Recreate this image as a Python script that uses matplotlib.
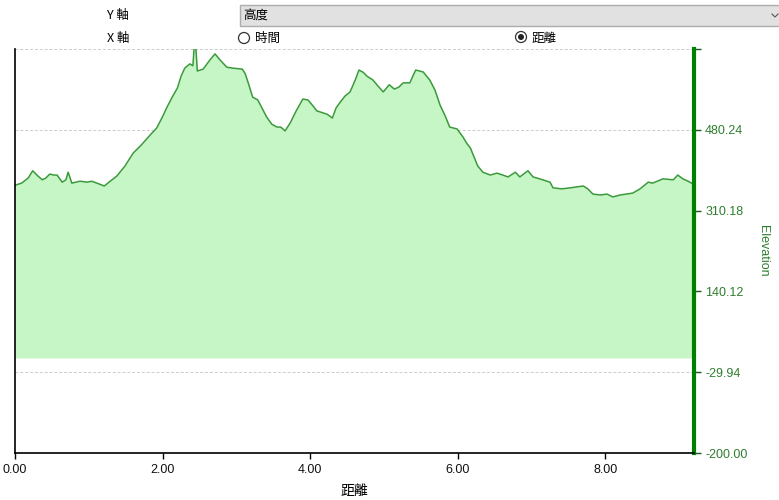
import matplotlib
matplotlib.use("Agg")
import matplotlib.pyplot as plt
from matplotlib.patches import Rectangle, Circle

plt.rcParams['font.family'] = ['Liberation Sans', 'Noto Sans CJK TC', 'DejaVu Sans']

# distance (km) and elevation (m)
distance = [0.00, 0.01, 0.09, 0.18, 0.24, 0.31, 0.37, 0.42, 0.47, 0.53, 0.57, 0.64, 0.69, 0.72,
            0.77, 0.88, 0.98, 1.04, 1.11, 1.21, 1.29, 1.38, 1.49, 1.60, 1.71, 1.83, 1.92, 1.99,
            2.06, 2.13, 2.20, 2.25, 2.30, 2.37, 2.41, 2.44, 2.47, 2.55, 2.64, 2.71, 2.78, 2.87,
            2.95, 3.08, 3.12, 3.16, 3.22, 3.29, 3.36, 3.41, 3.48, 3.55, 3.60, 3.66, 3.73, 3.81,
            3.90, 3.97, 4.04, 4.09, 4.17, 4.23, 4.30, 4.35, 4.40, 4.47, 4.54, 4.61, 4.66, 4.72,
            4.77, 4.85, 4.92, 4.99, 5.07, 5.14, 5.20, 5.26, 5.35, 5.39, 5.43, 5.53, 5.62, 5.69,
            5.76, 5.83, 5.89, 5.99, 6.07, 6.12, 6.17, 6.22, 6.27, 6.34, 6.44, 6.53, 6.61, 6.68,
            6.78, 6.84, 6.95, 7.02, 7.11, 7.25, 7.29, 7.41, 7.52, 7.70, 7.76, 7.83, 7.93, 8.02,
            8.10, 8.20, 8.37, 8.47, 8.58, 8.64, 8.78, 8.92, 8.98, 9.05, 9.12, 9.19]
elevation = [362, 364, 368, 379, 394, 383, 375, 379, 387, 385, 385, 370, 375, 391,
             368, 372, 370, 372, 368, 362, 372, 383, 404, 431, 448, 469, 484, 505,
             528, 549, 568, 593, 610, 619, 615, 680, 604, 608, 627, 640, 627, 612,
             610, 608, 598, 579, 549, 543, 522, 507, 492, 486, 486, 478, 495, 520,
             545, 543, 530, 520, 516, 513, 505, 526, 537, 551, 560, 585, 606, 601,
             593, 585, 572, 560, 575, 566, 570, 579, 579, 593, 606, 602, 585, 564,
             532, 509, 486, 482, 465, 452, 442, 423, 404, 391, 385, 389, 385, 381,
             391, 381, 394, 381, 377, 370, 358, 356, 358, 362, 356, 345, 343, 345,
             339, 343, 347, 356, 370, 368, 377, 375, 385, 377, 372, 366]

y_ticks = [-200.00, -29.94, 140.12, 310.18, 480.24, 650.30]
y_labels = ['-200.00', '-29.94', '140.12', '310.18', '480.24', '']
x_ticks = [0, 2, 4, 6, 8]
x_labels = ['0.00', '2.00', '4.00', '6.00', '8.00']

W, H = 779, 500
fig = plt.figure(figsize=(W / 100, H / 100), dpi=100)
ax = fig.add_axes([15 / W, 1 - 453 / H, 679 / W, 404 / H])

ax.fill_between(distance, elevation, 0, color='#c6f6c6', linewidth=0, zorder=1)
ax.plot(distance, elevation, color='#3a9a3a', linewidth=1.1, zorder=2)

ax.set_xlim(0, 9.2)
ax.set_ylim(-200, 650.30)
ax.set_xticks(x_ticks)
ax.set_xticklabels(x_labels, fontsize=9, color='#111111')
ax.set_yticks(y_ticks)
ax.set_yticklabels(y_labels, fontsize=9, color='#2e7d2e')
ax.yaxis.tick_right()
ax.tick_params(axis='y', length=5, width=1, color='#1a5a1a', pad=3)
ax.tick_params(axis='x', length=4, width=1, color='black', pad=4)
ax.grid(axis='y', color='#cccccc', linestyle=(0, (3, 2)), linewidth=0.7, zorder=0)
ax.set_axisbelow(True)

ax.spines['top'].set_visible(False)
ax.spines['left'].set_color('black')
ax.spines['left'].set_linewidth(1.2)
ax.spines['bottom'].set_color('black')
ax.spines['bottom'].set_linewidth(1.2)
ax.spines['right'].set_color('#008000')
ax.spines['right'].set_linewidth(3)

ax.text((763 - 15) / 679, 0.5, 'Elevation', rotation=270, color='#2e7d2e', fontsize=9,
        ha='center', va='center', transform=ax.transAxes)
ax.set_xlabel('距離', fontsize=10, color='black', labelpad=6,
              family=['Noto Sans CJK TC', 'DejaVu Sans'])

# header controls
cjk = ['Noto Sans CJK TC', 'DejaVu Sans']
rax = fig.add_axes([0, 0, 1, 1], facecolor='none')
rax.set_xlim(0, W)
rax.set_ylim(H, 0)
rax.axis('off')
rax.add_patch(Rectangle((240, 5), 545, 21, facecolor='#e1e1e1', edgecolor='#adadad', linewidth=1))
rax.plot([772, 775, 778], [14, 17, 14], color='#555555', linewidth=0.8)
for cx, cy, sel in [(244, 38, False), (521, 37, True)]:
    rax.add_patch(Circle((cx, cy), 5.5, facecolor='white', edgecolor='#333333', linewidth=0.9))
    if sel:
        rax.add_patch(Circle((cx, cy), 3.0, facecolor='#222222', edgecolor='none'))

fig.text(107 / W, 1 - 15 / H, 'Y 軸', fontsize=9, va='center', ha='left', family=cjk)
fig.text(107 / W, 1 - 38 / H, 'X 軸', fontsize=9, va='center', ha='left', family=cjk)
fig.text(243 / W, 1 - 15.5 / H, '高度', fontsize=9, va='center', ha='left', family=cjk)
fig.text(255 / W, 1 - 38 / H, '時間', fontsize=9, va='center', ha='left', family=cjk)
fig.text(532 / W, 1 - 38 / H, '距離', fontsize=9, va='center', ha='left', family=cjk)

fig.savefig('out.png', dpi=100)
